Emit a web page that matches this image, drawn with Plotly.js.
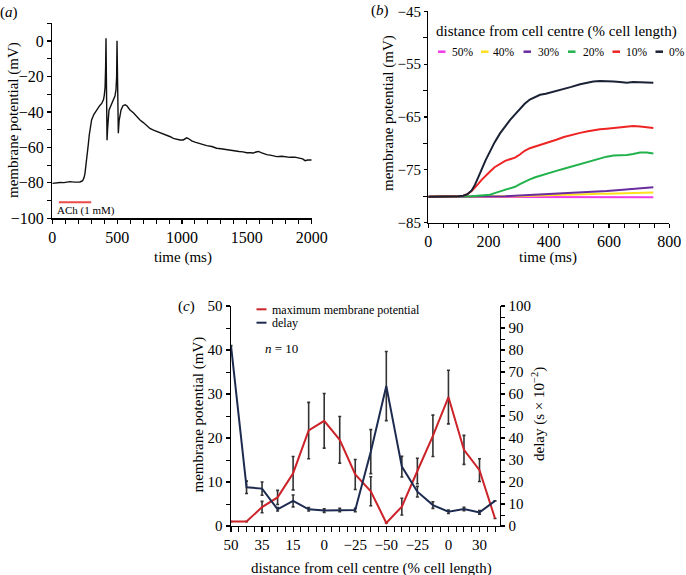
<!DOCTYPE html>
<html>
<head>
<meta charset="utf-8">
<script src="https://cdn.plot.ly/plotly-3.0.1.min.js"></script>
<style>html,body{margin:0;padding:0;background:#fff;}#chart{width:686px;height:575px;}</style>
</head>
<body>
<div id="chart"></div>
<script>
// ---------- Panel (a): single-cell recording ----------
const aTime = [0, 30, 60, 90, 111, 136, 170, 213, 234, 245, 252, 260, 270, 278, 285, 295, 303, 320, 342, 365, 381, 395, 401, 407, 411, 414, 417, 420, 422, 426, 437, 452, 470, 483, 491, 496, 499, 503, 506, 509, 515, 530, 545, 561, 575, 599, 625, 650, 676, 702, 730, 753, 780, 805, 830, 860, 882, 910, 933, 960, 985, 1010, 1023, 1036, 1049, 1062, 1075, 1100, 1139, 1165, 1190, 1230, 1267, 1300, 1340, 1396, 1440, 1470, 1499, 1525, 1550, 1570, 1589, 1610, 1653, 1690, 1730, 1770, 1800, 1833, 1870, 1910, 1930, 1949, 1970, 2000];
const aVoltage = [-80.3, -80.0, -79.8, -79.9, -79.6, -79.3, -79.6, -79.5, -78.8, -77, -74.6, -70, -65, -58, -53, -47, -44.5, -41.5, -38.9, -36.5, -35.2, -33, -30.5, -26, -15, 1.5, -20, -45, -56, -50, -39, -36.5, -33, -31, -27.6, -20, 0.2, -30, -47, -52, -45, -38.9, -36.5, -36, -36.5, -38.9, -40.5, -42.5, -44.6, -46, -48, -49.3, -50.3, -51, -51.8, -52.5, -53, -54, -54.9, -55.5, -55.8, -55.8, -55.2, -54.6, -55, -55.9, -56.3, -57, -58, -58.5, -59, -59.5, -60.5, -60.8, -61.3, -61.8, -62.3, -62.5, -63, -63, -63.2, -62.6, -62.3, -63, -64.1, -64.5, -65.2, -65, -65.4, -65.6, -65.5, -66.2, -66.5, -67.5, -67.1, -67.1];
const achTime = [50, 300];
const achLevel = -91;
const achLabel = 'ACh (1 mM)';

// ---------- Panel (b): simulated potentials by distance ----------
const bTime = [0, 50, 100, 116, 130, 144, 155, 165, 177, 190, 205, 220, 238, 255, 271, 288, 304, 320, 337, 355, 371, 390, 404, 425, 450, 475, 504, 530, 548, 570, 592, 615, 636, 659, 680, 703, 725, 747];
const bLabels = ['50%', '40%', '30%', '20%', '10%', '0%'];
const b50 = [-80.1, -80.1, -80.1, -80.1, -80.1, -80.1, -80.1, -80.1, -80.1, -80.1, -80.1, -80.1, -80.1, -80.1, -80.1, -80.1, -80.1, -80.1, -80.1, -80.1, -80.1, -80.1, -80.1, -80.1, -80.1, -80.15, -80.15, -80.15, -80.15, -80.15, -80.2, -80.2, -80.2, -80.2, -80.2, -80.2, -80.2, -80.2];
const b40 = [-80.1, -80.1, -80.1, -80.1, -80.1, -80.1, -80.1, -80.1, -80.1, -80.1, -80.1, -80.1, -80.05, -80.05, -80.0, -80.0, -80.0, -79.95, -79.9, -79.9, -79.85, -79.8, -79.8, -79.75, -79.7, -79.7, -79.6, -79.6, -79.55, -79.5, -79.5, -79.45, -79.4, -79.4, -79.35, -79.3, -79.3, -79.3];
const b30 = [-80.1, -80.1, -80.1, -80.1, -80.1, -80.1, -80.1, -80.1, -80.1, -80.05, -80.05, -80.0, -80.0, -80.0, -79.95, -79.9, -79.9, -79.85, -79.8, -79.8, -79.75, -79.7, -79.65, -79.6, -79.5, -79.4, -79.3, -79.2, -79.15, -79.1, -79.0, -78.9, -78.8, -78.7, -78.6, -78.5, -78.4, -78.3];
const b20 = [-80.1, -80.1, -80.1, -80.1, -80.05, -80.0, -79.95, -79.9, -79.9, -79.8, -79.7, -79.4, -79.1, -78.8, -78.5, -78.2, -77.7, -77.2, -76.8, -76.4, -76.1, -75.8, -75.5, -75.2, -74.8, -74.4, -73.9, -73.5, -73.1, -72.8, -72.5, -72.3, -72.3, -72.2, -72.0, -71.7, -71.7, -71.9];
const b10 = [-80.1, -80.1, -80.0, -79.9, -79.6, -79.0, -78.4, -77.7, -76.9, -76.1, -75.3, -74.5, -73.8, -73.3, -73.0, -72.7, -72.1, -71.4, -70.9, -70.6, -70.3, -70.0, -69.7, -69.3, -68.8, -68.4, -68.0, -67.7, -67.5, -67.3, -67.2, -67.1, -67.0, -66.9, -66.7, -66.8, -66.9, -67.1];
const b0 = [-80.1, -80.1, -80.0, -79.9, -79.6, -78.9, -77.8, -76.5, -74.8, -73.2, -71.5, -69.8, -68.1, -66.7, -65.6, -64.5, -63.4, -62.5, -61.7, -61.2, -60.8, -60.6, -60.4, -60.1, -59.7, -59.3, -58.8, -58.5, -58.3, -58.2, -58.2, -58.3, -58.4, -58.5, -58.4, -58.4, -58.4, -58.5];
const bSeries = [b50, b40, b30, b20, b10, b0];
const bColors = ['#f03ce6', '#ffe020', '#6a2c9e', '#22b24c', '#ee2424', '#1b2236'];

// ---------- Panel (c): maximum potential and delay along the cell ----------
const cTickLabels = ['50', '35', '15', '0', '\u221225', '\u221250', '\u221225', '0', '30'];
const cTickIndex = [0, 2, 4, 6, 8, 10, 12, 14, 16];
const cMaxPotential = [1.0, 1.0, 4.3, 6.5, 12.0, 21.7, 23.9, 19.6, 11.7, 7.9, 0.7, 4.4, 12.5, 20.5, 29.3, 17.3, 12.7, 1.7];
const cMaxPotentialErr = [0, 0, 1.3, 1.6, 3.8, 6.4, 6.2, 5.3, 3.4, 3.3, 0, 1.9, 2.9, 4.7, 6.1, 3.3, 2.6, 0];
const cDelay = [82, 17.6, 17.0, 7.6, 11.4, 7.6, 7.0, 7.3, 7.3, 33.8, 63.6, 27.0, 15.6, 9.5, 6.5, 7.7, 6.2, 11.4];
const cDelayErr = [0, 2.8, 3.0, 0.8, 2.7, 0.8, 0.8, 0.8, 0.8, 10, 15.7, 4.7, 2.4, 1.5, 0.8, 0.8, 0.8, 0];
const cIndex = cMaxPotential.map((_, i) => i);

// ---------- helpers ----------
const W = 686, H = 575;
const px = x => x / W;
const py = y => 1 - y / H;
const FONT = '"Liberation Serif", "Times New Roman", serif';

const traces = [];
traces.push({x: aTime, y: aVoltage, xaxis: 'x', yaxis: 'y', type: 'scatter', mode: 'lines',
  line: {color: '#111', width: 1.4}, showlegend: false, hoverinfo: 'skip'});
traces.push({x: achTime, y: achTime.map(() => achLevel), xaxis: 'x', yaxis: 'y', type: 'scatter', mode: 'lines',
  line: {color: '#ec4a4a', width: 2}, showlegend: false, hoverinfo: 'skip'});

bSeries.forEach((s, k) => {
  traces.push({x: bTime, y: s, xaxis: 'x2', yaxis: 'y2', type: 'scatter', mode: 'lines', name: bLabels[k],
    line: {color: bColors[k], width: 2}, showlegend: false});
});

traces.push({x: cIndex, y: cMaxPotential, xaxis: 'x3', yaxis: 'y3', type: 'scatter', mode: 'lines',
  name: 'maximum membrane potential', line: {color: '#cc2229', width: 2}, showlegend: false,
  error_y: {type: 'data', array: cMaxPotentialErr, visible: true, color: '#333', thickness: 1.6, width: 1.5}});
traces.push({x: cIndex, y: cDelay, xaxis: 'x3', yaxis: 'y4', type: 'scatter', mode: 'lines',
  name: 'delay', line: {color: '#1c2b4f', width: 2}, showlegend: false,
  error_y: {type: 'data', array: cDelayErr, visible: true, color: '#333', thickness: 1.6, width: 1.5}});

const axisBase = {showline: true, linecolor: '#000', linewidth: 1.4, showgrid: false, zeroline: false,
  ticks: 'outside', ticklen: 4, tickwidth: 1.2, tickcolor: '#000',
  tickfont: {family: FONT, size: 16, color: '#000'}};
const minor = (d, len) => ({dtick: d, ticks: 'outside', ticklen: len, tickwidth: 1, tickcolor: '#000', showgrid: false});

const annotations = [];
const ann = (text, x, y, opts) => annotations.push(Object.assign({text, x: px(x), y: py(y), xref: 'paper', yref: 'paper',
  showarrow: false, xanchor: 'center', yanchor: 'middle', font: {family: FONT, size: 15, color: '#000'}}, opts || {}));

ann('(<i>a</i>)', 9, 12);
ann('(<i>b</i>)', 380, 11);
ann('(<i>c</i>)', 186, 306);
ann('membrane potential (mV)', 13, 120, {textangle: -90});
ann('time (ms)', 182.5, 257);
ann('membrane potential (mV)', 388, 113, {textangle: -90});
ann('time (ms)', 548, 257);
ann('distance from cell centre (% cell length)', 556, 32);
ann('membrane potential (mV)', 197.5, 415, {textangle: -90});
ann('delay (s \u00d7 10<sup>\u22122</sup>)', 538, 414, {textangle: -90});
ann('distance from cell centre (% cell length)', 371.7, 568);
ann('maximum membrane potential', 270, 309.5, {xanchor: 'left', font: {family: FONT, size: 12, color: '#000'}});
ann('delay', 270, 322.7, {xanchor: 'left', font: {family: FONT, size: 12, color: '#000'}});
ann('<i>n</i> = 10', 262.7, 348, {xanchor: 'left', font: {family: FONT, size: 13, color: '#000'}});
annotations.push({text: achLabel, x: 20, y: -95.6, xref: 'x', yref: 'y', showarrow: false, xanchor: 'left', yanchor: 'middle',
  font: {family: FONT, size: 11, color: '#000'}});

// legend (b): swatches + labels
const bSwatchX = [438, 481, 523.5, 568, 612.5, 655.5];
const bTextX = [449.5, 491, 536, 580.5, 624, 667];
const shapes = [];
bLabels.forEach((lab, k) => {
  shapes.push({type: 'line', xref: 'paper', yref: 'paper', x0: px(bSwatchX[k]), x1: px(bSwatchX[k] + 7.5),
    y0: py(51.7), y1: py(51.7), line: {color: bColors[k], width: 2.5}});
  ann(lab, bTextX[k], 51.7, {xanchor: 'left', font: {family: FONT, size: 11.5, color: '#000'}});
});
// legend (c)
shapes.push({type: 'line', xref: 'paper', yref: 'paper', x0: px(256.5), x1: px(266.5), y0: py(309.3), y1: py(309.3), line: {color: '#cc2229', width: 2}});
shapes.push({type: 'line', xref: 'paper', yref: 'paper', x0: px(256.5), x1: px(266.5), y0: py(322.7), y1: py(322.7), line: {color: '#1c2b4f', width: 2}});

const layout = {
  width: W, height: H, margin: {l: 0, r: 0, t: 0, b: 0}, paper_bgcolor: '#fff', plot_bgcolor: 'rgba(0,0,0,0)',
  showlegend: false, font: {family: FONT, color: '#000'},
  xaxis: Object.assign({}, axisBase, {domain: [px(52.3), px(311.7)], anchor: 'y', range: [0, 2000], tick0: 0, dtick: 500, minor: minor(100, 4)}),
  yaxis: Object.assign({}, axisBase, {domain: [py(218.3), py(23.3)], anchor: 'x', range: [-100, 10], tick0: 0, dtick: 20, minor: minor(10, 4)}),
  xaxis2: Object.assign({}, axisBase, {domain: [px(428.3), px(669.3)], anchor: 'y2', range: [0, 800], tick0: 0, dtick: 200, minor: minor(50, 4)}),
  yaxis2: Object.assign({}, axisBase, {domain: [py(222.7), py(11.3)], anchor: 'x2', range: [-85, -45], tick0: -45, dtick: 10, minor: minor(5, 4),
    ticklen: 3, tickfont: {family: FONT, size: 15, color: '#000'}}),
  xaxis3: Object.assign({}, axisBase, {domain: [px(231), px(500)], anchor: 'y3', range: [0, 17.32], tickmode: 'array',
    tickvals: cTickIndex, ticktext: cTickLabels, ticklen: 5, tickfont: {family: FONT, size: 15, color: '#000'},
    minor: {tickmode: 'linear', tick0: 0, dtick: 0.5, ticks: 'outside', ticklen: 5, tickwidth: 1, tickcolor: '#000'}}),
  yaxis3: Object.assign({}, axisBase, {domain: [py(526), py(306)], anchor: 'x3', range: [0, 50], tick0: 0, dtick: 10,
    tickfont: {family: FONT, size: 15, color: '#000'}, minor: minor(5, 4)}),
  yaxis4: Object.assign({}, axisBase, {overlaying: 'y3', anchor: 'x3', side: 'right', range: [0, 100], tick0: 0, dtick: 10,
    tickfont: {family: FONT, size: 15, color: '#000'}, minor: minor(5, 4)}),
  annotations, shapes
};

Plotly.newPlot('chart', traces, layout, {staticPlot: true, displayModeBar: false});
</script>
</body>
</html>
